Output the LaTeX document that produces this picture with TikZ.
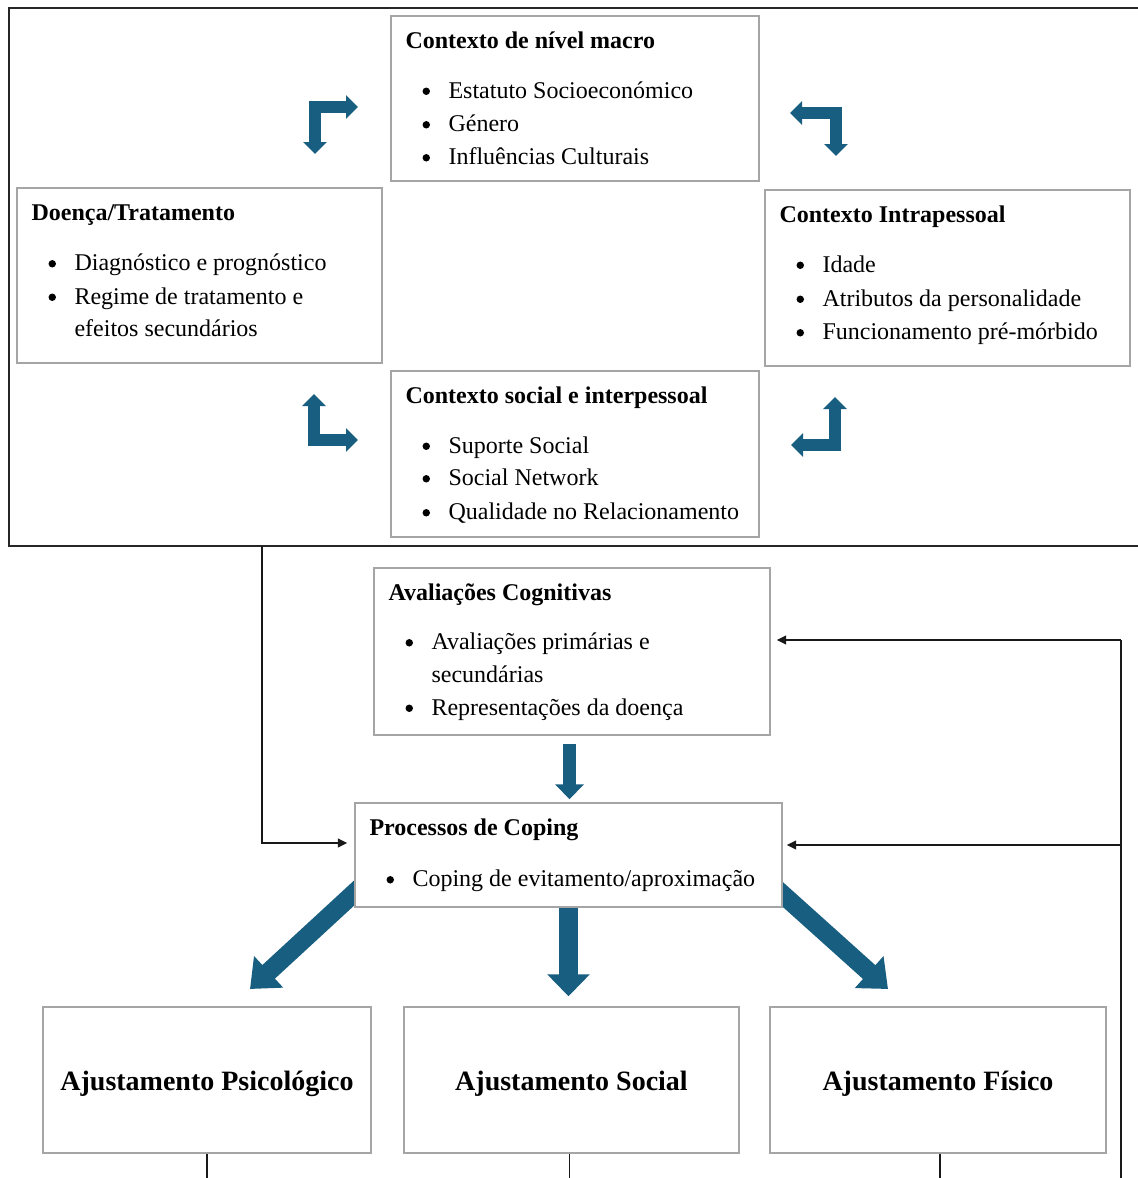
\documentclass[tikz,border=0pt]{standalone}
\usepackage{fontspec}
\setmainfont{Liberation Serif}
\usetikzlibrary{arrows.meta,calc,fit,backgrounds}
\definecolor{arrowblue}{RGB}{24,94,128}
\definecolor{boxgray}{RGB}{165,165,165}
\newcommand\bxtitle[3]{\node[ttl] (#1) at ($(#2.north west)+(15,33)$) {#3};}
\newcommand\bxitem[4]{%
  \node[dot] (#1b) at ($(#2.north west)+(36,#3-7)$) {};
  \node[itm] (#1) at ($(#2.north west)+(58,#3)$) {#4};}
\newcommand\bxcont[4]{\node[itm] (#1) at ($(#2.north west)+(58,#3)$) {#4};}
\begin{document}
\begin{tikzpicture}[x=0.75pt,y=-0.75pt,
  box/.style={draw=boxgray, line width=1.1pt, fill=white, inner sep=0pt},
  fr/.style={draw=black!85, line width=1.5pt},
  ttl/.style={anchor=base west, inner sep=0pt, font=\fontsize{18}{22}\selectfont\bfseries},
  itm/.style={anchor=base west, inner sep=0pt, font=\fontsize{18}{22}\selectfont},
  dot/.style={circle, fill=black, draw=none, inner sep=0pt, minimum size=5.6pt},
  big/.style={inner sep=0pt, font=\fontsize{21}{25}\selectfont\bfseries},
  wire/.style={draw=black!90, line width=1.3pt},
  conn/.style={wire, -{Triangle[length=7pt,width=6.5pt]}},
  bendarr/.style={draw=arrowblue, line width=9pt, line join=miter,
     {Triangle[length=9pt,width=17.25pt]}-{Triangle[length=9pt,width=17.25pt]}},
]
\useasboundingbox (0,0) rectangle (1138,1178);

% ---- boxes
\node[box, fit={(391,16)(759,181)}] (macro) {};
\node[box, fit={(17,188)(382,363)}] (doenca) {};
\node[box, fit={(765,190)(1130,366)}] (intra) {};
\node[box, fit={(391,371)(759,537)}] (social) {};
\node[box, fit={(374,568)(770,735)}] (aval) {};
\node[box, fit={(355,803)(782,907)}] (coping) {};
\node[box, fit={(43,1007)(371,1153)}] (ajpsi) {};
\node[box, fit={(404,1007)(739,1153)}] (ajsoc) {};
\node[box, fit={(770,1007)(1106,1153)}] (ajfis) {};

% ---- outer frame
\node[fit={(9,8)(1150,546)}, inner sep=0pt] (frame) {};
\draw[fr] (frame.north east) -- (frame.north west) -- (frame.south west) -- (frame.south east);

% ---- texts
\bxtitle{macroT}{macro}{Contexto de nível macro}
\bxitem{macroA}{macro}{83}{Estatuto Socioeconómico}
\bxitem{macroB}{macro}{116.5}{Género}
\bxitem{macroC}{macro}{149.5}{Influências Culturais}

\bxtitle{doencaT}{doenca}{Doença/Tratamento}
\bxitem{doencaA}{doenca}{83.5}{Diagnóstico e prognóstico}
\bxitem{doencaB}{doenca}{117}{Regime de tratamento e}
\bxcont{doencaC}{doenca}{149}{efeitos secundários}

\bxtitle{intraT}{intra}{Contexto Intrapessoal}
\bxitem{intraA}{intra}{83}{Idade}
\bxitem{intraB}{intra}{117}{Atributos da personalidade}
\bxitem{intraC}{intra}{150.5}{Funcionamento pré-mórbido}

\bxtitle{socialT}{social}{Contexto social e interpessoal}
\bxitem{socialA}{social}{83}{Suporte Social}
\bxitem{socialB}{social}{115.5}{Social Network}
\bxitem{socialC}{social}{149.5}{Qualidade no Relacionamento}

\bxtitle{avalT}{aval}{Avaliações Cognitivas}
\bxitem{avalA}{aval}{82.5}{Avaliações primárias e}
\bxcont{avalB}{aval}{115}{secundárias}
\bxitem{avalC}{aval}{148}{Representações da doença}

\bxtitle{copingT}{coping}{Processos de Coping}
\bxitem{copingA}{coping}{84.5}{Coping de evitamento/aproximação}

\node[big] (ajpsiT) at ($(ajpsi)+(0,4)$) {Ajustamento Psicológico};
\node[big] (ajsocT) at ($(ajsoc)+(0,4)$) {Ajustamento Social};
\node[big] (ajfisT) at ($(ajfis)+(0,4)$) {Ajustamento Físico};

% ---- thin connectors
\coordinate (lc) at (262,546);
\draw[conn] (lc) |- ($(coping.west)+(-7,-12)$);
\coordinate (rTop) at (1121,640);
\coordinate (rBot) at (1121,1185);
\draw[wire] (rTop) -- (rBot);
\coordinate (ra) at (rTop -| aval.east);
\draw[conn] (rTop) -- ($(ra)+(6,0)$);
\coordinate (rb) at ($(coping.east)+(4,-10)$);
\draw[conn] (rTop |- rb) -- (rb);
\draw[wire] (ajpsi.south) -- ++(0,35);
\draw[wire] ($(ajsoc.south)+(-2,0)$) -- ++(0,35);
\draw[wire] ($(ajfis.south)+(2,0)$) -- ++(0,35);

% ---- bent double arrows
\coordinate (tl1) at (315,154); \coordinate (tl2) at (315,107); \coordinate (tl3) at (358,107);
\draw[bendarr] (tl1) -- (tl2) -- (tl3);
\coordinate (tr1) at (790,113); \coordinate (tr2) at (836,113); \coordinate (tr3) at (836,156);
\draw[bendarr] (tr1) -- (tr2) -- (tr3);
\coordinate (bl1) at (314,394); \coordinate (bl2) at (314,440); \coordinate (bl3) at (358,440);
\draw[bendarr] (bl1) -- (bl2) -- (bl3);
\coordinate (br1) at (791,445); \coordinate (br2) at (835,445); \coordinate (br3) at (835,397);
\draw[bendarr] (br1) -- (br2) -- (br3);

% ---- fat arrows (behind boxes)
\begin{scope}[on background layer]
\fill[white] (0,0) rectangle (1138,1178);
\coordinate (a1) at (coping.north |- aval.south);
\draw[arrowblue, line width=9.75pt, -{Triangle[length=11.25pt,width=21pt]}]
  ($(a1)+(1,8)$) -- ($(coping.north)+(1,-3)$);
\coordinate (s2) at (coping.south |- ajsoc.north);
\draw[arrowblue, line width=14pt, -{Triangle[length=16.5pt,width=31pt]}]
  ($(coping.south)+(0,-5)$) -- ($(s2)+(0,-10)$);
\coordinate (dl) at (250,989);
\draw[arrowblue, line width=13.9pt, -{Triangle[length=19pt,width=31pt]}]
  ($(coping.south west)+(11,-25)$) -- (dl);
\coordinate (dr) at (888,989);
\draw[arrowblue, line width=13.9pt, -{Triangle[length=19pt,width=31pt]}]
  ($(coping.south east)+(-13,-25)$) -- (dr);
\end{scope}
\end{tikzpicture}
\end{document}
